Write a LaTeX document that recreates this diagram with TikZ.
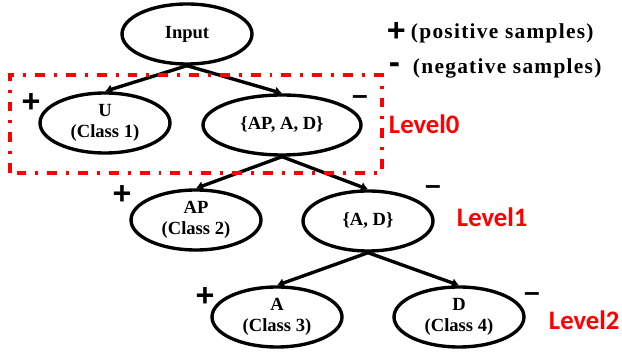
\documentclass[tikz,border=0pt]{standalone}
\usepackage{fontspec}
\setmainfont{Liberation Serif}
\newfontfamily\signfont{Liberation Sans}
\newfontfamily\levelfont{Carlito}
\usepackage{tikz}
\definecolor{lvlred}{RGB}{255,0,0}
\usetikzlibrary{arrows.meta,positioning,shapes.geometric}

\begin{document}
\begin{tikzpicture}[
    treenode/.style={ellipse, draw, line width=2.4pt, inner sep=0pt,
      minimum width=3.25cm, minimum height=1.5cm, align=center,
      font=\fontsize{13.2}{14.5}\selectfont\bfseries},
    branch/.style={line width=2.4pt, -{Latex[length=5pt,width=7pt]}},
    possign/.style={font=\signfont\fontsize{23}{23}\selectfont\bfseries},
    negsign/.style={font=\signfont\fontsize{20}{20}\selectfont\bfseries},
    levellabel/.style={anchor=west, text=lvlred, font=\levelfont\fontsize{19}{19}\selectfont\bfseries},
    legendtext/.style={anchor=west, font=\fontsize{15.2}{16}\selectfont\bfseries\addfontfeature{LetterSpace=6}}
  ]
  \useasboundingbox (0,0) rectangle (15.55,8.95);

  %% Tree nodes
  \node[treenode] (input) at (4.675,8.1)   {Input};
  \node[treenode] (u)     at (2.625,5.875) {U\\(Class 1)};
  \node[treenode, minimum width=3.95cm] (apad) at (7.05,5.825) {\{AP, A, D\}};
  \node[treenode] (ap)    at (4.9,3.45)    {AP\\(Class 2)};
  \node[treenode] (ad)    at (9.2,3.425)   {\{A, D\}};
  \node[treenode] (a)     at (6.925,1.025) {A\\(Class 3)};
  \node[treenode] (d)     at (11.475,1.025) {D\\(Class 4)};

  %% Branches
  \draw[branch] (input.south) -- (u.north);
  \draw[branch] (input.south) -- (apad.north);
  \draw[branch] (apad.south) -- (ap.north);
  \draw[branch] (apad.south) -- (ad.north);
  \draw[branch] (ad.south) -- (a.north);
  \draw[branch] (ad.south) -- (d.north);

  %% Level 0 box
  \draw[lvlred, line width=2.2pt, dash pattern=on 7pt off 6.4pt on 2.1pt off 6.4pt]
    (0.25,4.625) rectangle (9.55,7.075);

  %% Signs
  \node[possign] (p0) at (0.775,6.375) {+};
  \node[negsign] (m0) at (9.0,6.45)    {–};
  \node[possign] (p1) at (3.05,4.075)  {+};
  \node[negsign] (m1) at (10.825,4.2)  {–};
  \node[possign] (p2) at (5.125,1.525) {+};
  \node[negsign] (m2) at (13.3,1.525)  {–};

  %% Level labels
  \node[levellabel] (lv0) at (9.6,5.85)   {Level0};
  \node[levellabel] (lv1) at (11.3,3.51)  {Level1};
  \node[levellabel] (lv2) at (13.6,0.95)  {Level2};

  %% Legend
  \node[possign, anchor=west] (lgp) at (9.55,8.15) {+};
  \node[legendtext] (lgpt) at (10.15,8.125) {(positive samples)};
  \node[negsign, anchor=west, font=\signfont\fontsize{24}{24}\selectfont\bfseries] (lgm) at (9.6,7.25) {-};
  \node[legendtext] (lgmt) at (10.2,7.25) {(negative samples)};
\end{tikzpicture}
\end{document}
